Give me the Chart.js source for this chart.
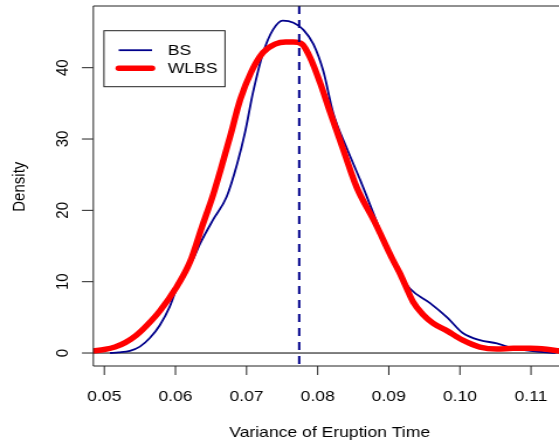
<!DOCTYPE html>
<html><head><meta charset="utf-8">
<script src="https://cdn.jsdelivr.net/npm/chart.js@4.4.0/dist/chart.umd.min.js"></script>
<style>
html,body{margin:0;padding:0;background:#fff;overflow:hidden;}
#wrap{position:absolute;left:0;top:0;width:478px;height:447px;transform:scaleX(1.16946);transform-origin:0 0;}
canvas{display:block;}
</style></head><body>
<div id="wrap"><canvas id="c" width="478" height="447"></canvas></div>
<script>
// ---- data ----
const bsX = [0.0508, 0.0520, 0.0536, 0.0550, 0.0564, 0.0578, 0.0592, 0.0600, 0.0610, 0.0625, 0.0635, 0.0653, 0.0672, 0.0687, 0.0698, 0.0709, 0.0723, 0.0737, 0.0751, 0.0766, 0.0780, 0.0794, 0.0808, 0.0822, 0.0841, 0.0860, 0.0883, 0.0906, 0.0930, 0.0958, 0.0982, 0.1004, 0.1028, 0.1052, 0.1075, 0.1099, 0.1122, 0.1135];
const bsY = [0.0, 0.08, 0.3, 0.9, 2.1, 3.9, 6.5, 8.6, 10.8, 13.2, 15.4, 18.7, 21.9, 26.6, 31.0, 36.5, 42.0, 45.3, 46.6, 46.3, 45.3, 43.3, 39.5, 33.6, 28.7, 24.2, 18.4, 12.6, 9.0, 7.0, 5.0, 2.8, 1.8, 1.36, 0.66, 0.32, 0.08, 0.02];
const wlbsX = [0.04845, 0.0500, 0.0515, 0.0530, 0.0545, 0.0560, 0.0578, 0.0600, 0.0621, 0.0637, 0.0653, 0.0665, 0.0677, 0.0691, 0.0707, 0.0723, 0.0740, 0.0755, 0.0766, 0.0778, 0.0789, 0.0803, 0.0817, 0.0836, 0.0855, 0.0880, 0.0906, 0.0916, 0.0925, 0.0934, 0.0948, 0.0962, 0.0982, 0.1004, 0.1028, 0.1052, 0.1075, 0.1099, 0.1122, 0.1141];
const wlbsY = [0.3, 0.5, 0.85, 1.5, 2.5, 3.9, 5.9, 9.0, 12.9, 17.6, 22.2, 26.2, 30.4, 35.5, 39.5, 42.1, 43.3, 43.6, 43.6, 43.3, 41.5, 38.0, 33.9, 28.5, 23.2, 18.4, 13.0, 11.1, 9.1, 7.2, 5.4, 4.2, 3.1, 1.8, 0.84, 0.56, 0.66, 0.66, 0.52, 0.28];
const vlineX = [0.0774];
const xTicks = [0.05, 0.06, 0.07, 0.08, 0.09, 0.10, 0.11];
const xTickLabels = ["0.05", "0.06", "0.07", "0.08", "0.09", "0.10", "0.11"];
const yTicks = [0, 10, 20, 30, 40];
const yTickLabels = ["0", "10", "20", "30", "40"];
const seriesNames = ["BS", "WLBS"];
const xTitle = "Variance of Eruption Time";
const yTitle = "Density";
const xRange = [0.048453, 0.113936];
const yRange = [-1.82, 48.65];

const FONT = '15px "Liberation Sans", Arial, Helvetica, sans-serif';
const NAVY = '#00008B';
const RED = '#FF0000';

const toPts = (xs, ys) => xs.map((x, i) => ({x: x, y: ys[i]}));

const decor = {
  id: 'decor',
  beforeDatasetsDraw(chart) {
    const {ctx, chartArea: a, scales: {x, y}} = chart;
    ctx.save();
    const y0 = y.getPixelForValue(0);
    ctx.strokeStyle = '#000'; ctx.lineWidth = 1;
    ctx.beginPath(); ctx.moveTo(a.left, y0); ctx.lineTo(a.right, y0); ctx.stroke();
    ctx.restore();
  },
  afterDatasetsDraw(chart) {
    const {ctx, chartArea: a, scales: {x, y}} = chart;
    ctx.save();
    ctx.strokeStyle = NAVY; ctx.lineWidth = 2; ctx.setLineDash([8, 6]);
    vlineX.forEach(v => {
      const px = x.getPixelForValue(v);
      ctx.beginPath(); ctx.moveTo(px, a.top); ctx.lineTo(px, a.bottom); ctx.stroke();
    });
    ctx.setLineDash([]);
    ctx.strokeStyle = '#222'; ctx.lineWidth = 1;
    ctx.beginPath();
    ctx.moveTo(a.right + 5, a.top); ctx.lineTo(a.left, a.top); ctx.lineTo(a.left, a.bottom); ctx.lineTo(a.right + 5, a.bottom);
    ctx.stroke();
    ctx.fillStyle = '#000'; ctx.font = FONT;
    ctx.textAlign = 'center'; ctx.textBaseline = 'alphabetic';
    xTicks.forEach((t, i) => {
      const px = x.getPixelForValue(t);
      ctx.beginPath(); ctx.moveTo(px, a.bottom); ctx.lineTo(px, a.bottom + 9); ctx.stroke();
      ctx.fillText(xTickLabels[i], px, 400.7);
    });
    yTicks.forEach((t, i) => {
      const py = y.getPixelForValue(t);
      ctx.beginPath(); ctx.moveTo(a.left - 9.7, py); ctx.lineTo(a.left, py); ctx.stroke();
      ctx.save(); ctx.translate(58.4, py); ctx.rotate(-Math.PI / 2);
      ctx.fillText(yTickLabels[i], 0, 0); ctx.restore();
    });
    ctx.fillText(xTitle, 281.9, 436.7);
    ctx.save(); ctx.translate(21.4, 186.7); ctx.rotate(-Math.PI / 2);
    ctx.fillText(yTitle, 0, 0); ctx.restore();
    ctx.fillStyle = '#fff';
    ctx.fillRect(88.9, 30.7, 103.5, 56);
    ctx.strokeStyle = '#222'; ctx.lineWidth = 1;
    ctx.strokeRect(88.9, 30.7, 103.5, 56);
    const ly = [50.2, 68.3], lb = [55, 73.4];
    const cols = [NAVY, RED], lws = [1.8, 5.5];
    seriesNames.forEach((n, i) => {
      ctx.strokeStyle = cols[i]; ctx.lineWidth = lws[i]; ctx.lineCap = i ? 'round' : 'butt';
      ctx.beginPath(); ctx.moveTo(101.5, ly[i]); ctx.lineTo(130, ly[i]); ctx.stroke();
      ctx.fillStyle = '#000'; ctx.textAlign = 'left';
      ctx.fillText(n, 143.4, lb[i]);
    });
    ctx.restore();
  }
};

new Chart(document.getElementById('c'), {
  type: 'scatter',
  data: {
    datasets: [
      {label: seriesNames[1], data: toPts(wlbsX, wlbsY), showLine: true, borderColor: RED, backgroundColor: RED,
       borderWidth: 5.5, pointRadius: 0, cubicInterpolationMode: 'monotone', borderCapStyle: 'round', borderJoinStyle: 'round', order: 0},
      {label: seriesNames[0], data: toPts(bsX, bsY), showLine: true, borderColor: NAVY, backgroundColor: NAVY,
       borderWidth: 1.8, pointRadius: 0, cubicInterpolationMode: 'monotone', order: 1}
    ]
  },
  options: {
    responsive: false, animation: false, devicePixelRatio: 1,
    layout: {padding: {left: 79.8, right: 0, top: 6, bottom: 81}},
    plugins: {legend: {display: false}, tooltip: {enabled: false}, title: {display: false}},
    events: [],
    scales: {
      x: {type: 'linear', min: xRange[0], max: xRange[1], display: false},
      y: {type: 'linear', min: yRange[0], max: yRange[1], display: false}
    }
  },
  plugins: [decor]
});
</script>
</body></html>
